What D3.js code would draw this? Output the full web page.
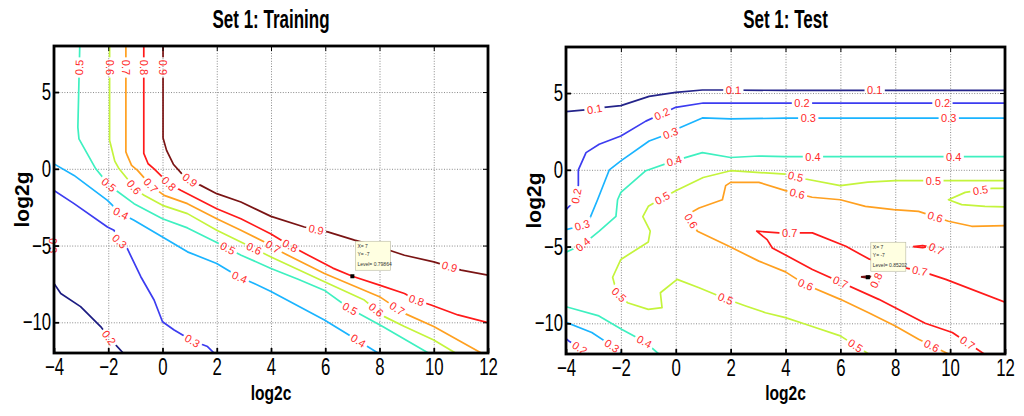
<!DOCTYPE html>
<html>
<head>
<meta charset="utf-8">
<script src="https://d3js.org/d3.v7.min.js"></script>
<style>
  body { margin: 0; background: #fff; }
  text { font-family: "Liberation Sans", Arial, sans-serif; }
</style>
</head>
<body>
<div id="chart"></div>
<script>
// axis ticks and titles
const xTicks = [-4, -2, 0, 2, 4, 6, 8, 10, 12];
const yTicks = [-10, -5, 0, 5];
const titles = ["Set 1: Training", "Set 1: Test"];

// ---- training set contours, points are [log2c, log2g] ----
const trainLevels = [0.2, 0.3, 0.4, 0.5, 0.6, 0.7, 0.8, 0.9];
const trainColors = ["#1c1c82", "#3c3cf0", "#1ab4ff", "#3ef0c0", "#c4f43c", "#ffa020", "#ff1a1a", "#7a1414"];

const tr02 = [[-4,-7.47],[-3.75,-8.12],[-3.02,-8.98],[-2.28,-10.28],[-1.97,-11.0],[-1.45,-12]];
const tr03 = [[-4,-1.41],[-3.26,-2.27],[-2.03,-3.79],[-1.79,-4.0],[-1.6,-4.7],[-1.3,-5.19],[-0.8,-7.03],[-0.31,-8.55],[0,-9.96],[0.43,-10.5],[1.1,-11.2],[1.66,-11.58],[1.9,-12]];
const tr04 = [[-4,0.32],[-3.26,-0.43],[-2.03,-2.06],[-1.54,-2.9],[-1.05,-3.35],[0,-4.44],[0.92,-5.41],[2,-6.17],[2.83,-7.05],[3.38,-7.47],[4,-8.0],[5.97,-9.85],[7.22,-11.2],[7.94,-12]];
const tr05 = [[-3.05,8],[-3.12,2.7],[-3.08,1.95],[-2.77,0.97],[-2.46,0],[-2.0,-1.0],[-1.72,-1.4],[-1.05,-2.27],[0,-3.25],[0.92,-3.85],[2,-4.8],[2.9,-5.63],[4,-6.49],[5,-7.2],[6,-7.95],[6.9,-9.1],[8.1,-10.26],[9.8,-12]];
const tr06 = [[-1.95,8],[-1.95,1.85],[-1.9,1.5],[-1.76,0.5],[-1.6,0],[-1.05,-1.19],[-0.68,-1.73],[0,-2.38],[0.92,-2.92],[2,-4.0],[3.38,-5.19],[4,-5.75],[5.97,-7.36],[7.44,-8.55],[8.18,-9.63],[8.92,-10.28],[10,-11.15],[10.8,-12]];
const tr07 = [[-1.35,8],[-1.35,1.1],[-1.3,0.87],[-1.14,0.22],[-0.92,-0.1],[-0.43,-1.08],[0.06,-1.73],[0.92,-2.27],[2,-3.25],[2.89,-4.0],[3.87,-4.87],[4.37,-5.41],[5.97,-6.82],[8,-8.33],[8.92,-9.42],[10,-10.28],[11.75,-12]];
const tr08 = [[-0.69,8],[-0.69,1.0],[-0.53,0.33],[-0.31,0.0],[0.24,-0.97],[0.67,-1.4],[2,-2.6],[2.89,-3.25],[4,-4.25],[4.7,-5.0],[5.5,-5.75],[6.28,-6.47],[7,-7],[8,-7.58],[8.92,-8.12],[9.35,-8.55],[9.9,-8.87],[10.89,-9.52],[12,-10.02]];
const tr09 = [[0.02,8],[0.02,2],[0.15,1.2],[0.4,0.3],[0.7,-0.3],[1.1,-0.85],[1.41,-1.08],[2,-1.62],[2.89,-2.16],[4,-3.1],[5.23,-3.79],[6.09,-4.11],[7.08,-4.65],[8,-5.09],[8.92,-5.63],[10,-6.06],[11.01,-6.6],[12,-6.93]];

const trainContours = [
  {level: 0.2, pts: tr02}, {level: 0.3, pts: tr03}, {level: 0.4, pts: tr04},
  {level: 0.5, pts: tr05}, {level: 0.6, pts: tr06}, {level: 0.7, pts: tr07},
  {level: 0.8, pts: tr08}, {level: 0.9, pts: tr09}
];

// inline labels [level, log2c, log2g, fixed angle]
const trainLabels = [
  [0.9, 0.02, 6.6], [0.9, 1.0, -0.76], [0.9, 5.66, -4.0], [0.9, 10.58, -6.39],
  [0.8, -0.69, 6.6], [0.8, 0.24, -0.97], [0.8, 4.68, -5.1], [0.8, 9.35, -8.66],
  [0.7, -1.35, 6.6], [0.7, -0.43, -1.08], [0.7, 4.07, -5.1], [0.7, 8.61, -9.2],
  [0.6, -1.95, 6.6], [0.6, -1.05, -1.19], [0.6, 3.38, -5.19], [0.6, 7.87, -9.2],
  [0.5, -3.08, 6.6], [0.5, -2.0, -1.08], [0.5, 2.4, -5.2], [0.5, 6.89, -9.2],
  [0.4, -1.54, -2.92], [0.4, 2.83, -7.1], [0.4, 7.22, -11.2],
  [0.3, -1.6, -4.76], [0.3, 1.1, -11.2], [0.3, -4.05, -5.0, 90],
  [0.2, -1.97, -11.0]
];
const trainCursor = {x: 7, y: -7, level: "0.79864"};

// ---- test set contours ----
const testLevels = [0.1, 0.2, 0.3, 0.4, 0.5, 0.6, 0.7, 0.8];
const testColors = ["#24248a", "#3c3cf0", "#1ab4ff", "#3ef0c0", "#c4f43c", "#ffa020", "#ff1a1a", "#7a1414"];

const te01 = [[-4,3.79],[-3,3.95],[-2.61,4.07],[-2,4.18],[-0.97,4.78],[0,5.04],[0.97,5.2],[1.7,5.2],[4,5.17],[12,5.17]];
const te02 = [[-4,-2.6],[-3.65,-1.95],[-3.55,-1.0],[-3.55,0],[-3.27,1.12],[-2.79,1.66],[-2,2.2],[-1.09,3.17],[-0.5,3.65],[0,4.07],[1,4.35],[12,4.35]];
const te02b = [[-4,-11.0],[-3.9,-11.15],[-3.5,-11.6],[-3.17,-12]];
const te03 = [[-4,-3.9],[-3.76,-3.79],[-3.4,-3.6],[-3.15,-3.25],[-2.85,-1.95],[-2.42,0],[-2,0.58],[-0.97,1.88],[-0.18,2.4],[0,2.63],[0.97,3.38],[2,3.32],[4,3.36],[12,3.36]];
const te03b = [[-4,-9.94],[-3.06,-10.6],[-2.32,-11.47],[-1.96,-12]];
const te04 = [[-4,-5.37],[-3.39,-4.87],[-2.79,-4.0],[-2.18,-3.03],[-2.12,-1.95],[-2,-1.47],[-1.09,-0.06],[-0.06,0.58],[0.97,1.12],[2,0.8],[3.03,0.9],[4,0.86],[12,0.86]];
const te04b = [[-4,-8.92],[-2.8,-9.52],[-1.96,-10.4],[-1.1,-11.24],[-0.62,-12]];
const te05 = [[12,-0.71],[10,-0.71],[8,-0.71],[7,-0.8],[6,-1.03],[4.73,-0.6],[4,-0.28],[2,-0.06],[1,-0.5],[0,-1.36],[-0.5,-1.85],[-1.0,-2.38],[-1.2,-3.05],[-0.93,-4.0],[-1.0,-4.7],[-2,-5.84],[-2.3,-7.0],[-2.15,-8.0],[-1.76,-8.66],[-1.0,-9.09],[-0.5,-8.98],[-0.56,-8.01],[0.05,-7.14],[0.85,-7.68],[1.82,-8.4],[2.55,-8.87],[3.27,-9.31],[4,-9.63],[4.73,-10.06],[6,-10.82],[7.03,-12]];
const te05b = [[12,-1.21],[11.52,-1.21],[10.55,-1.47],[9.94,-1.95],[10.42,-2.27],[11.27,-2.38],[12,-2.42]];
const te06 = [[12,-3.64],[10.79,-3.68],[9.94,-3.35],[8.85,-2.71],[7.94,-2.6],[6.91,-2.38],[6,-1.95],[4.97,-1.79],[4,-1.36],[3.03,-0.82],[2,-0.82],[1.82,-1.03],[1.7,-1.95],[0.85,-2.49],[0.42,-2.92],[0.79,-4.0],[1.94,-4.98],[3.03,-5.95],[4,-6.65],[4.7,-7.45],[6,-8.44],[7.03,-9.31],[8,-10.17],[8.85,-11.04],[9.94,-12]];
const te07 = [[12,-8.62],[9.84,-7.14],[8.93,-6.6],[8.36,-6.39],[7.03,-5.8],[6.2,-4.98],[4.98,-4.11],[3.76,-4.11],[2.95,-4.0],[3.33,-4.55],[3.52,-5.09],[4.98,-6.49],[7.4,-8.44],[9.09,-10],[10.08,-10.6],[11.24,-12]];
const te07b = [[8.65,-5.0],[9.0,-4.93],[9.2,-5.0],[9.0,-5.07],[8.65,-5.0]];
const te08 = [[6.75,-6.97],[7.05,-6.93],[7.2,-7.0],[7.05,-7.06],[6.75,-6.97]];

const testContours = [
  {level: 0.1, pts: te01}, {level: 0.2, pts: te02}, {level: 0.2, pts: te02b},
  {level: 0.3, pts: te03}, {level: 0.3, pts: te03b}, {level: 0.4, pts: te04},
  {level: 0.4, pts: te04b}, {level: 0.5, pts: te05}, {level: 0.5, pts: te05b},
  {level: 0.6, pts: te06}, {level: 0.7, pts: te07}, {level: 0.7, pts: te07b},
  {level: 0.8, pts: te08}
];

const testLabels = [
  [0.1, -2.95, 3.85], [0.1, 2.1, 5.15], [0.1, 7.25, 5.17],
  [0.2, -3.65, -1.7], [0.2, -0.5, 3.62], [0.2, 4.6, 4.35], [0.2, 9.72, 4.35], [0.2, -3.5, -11.6],
  [0.3, -3.42, -3.55], [0.3, -0.18, 2.35], [0.3, 4.83, 3.36], [0.3, 9.95, 3.36], [0.3, -2.32, -11.45],
  [0.4, -3.39, -4.85], [0.4, -0.06, 0.6], [0.4, 5.0, 0.86], [0.4, 10.13, 0.86], [0.4, -1.15, -11.2],
  [0.5, -0.5, -1.8], [0.5, 4.36, -0.5], [0.5, 9.39, -0.71], [0.5, 11.1, -1.3],
  [0.5, -2.1, -8.2], [0.5, 1.82, -8.4], [0.5, 6.55, -11.45],
  [0.6, 4.42, -1.62], [0.6, 9.45, -3.1], [0.6, 0.5, -3.4], [0.6, 4.73, -7.5], [0.6, 9.33, -11.45],
  [0.7, 4.15, -4.11], [0.7, 8.9, -6.55], [0.7, 6.0, -7.35], [0.7, 10.6, -11.35], [0.7, 9.5, -5.15, 25],
  [0.8, 7.3, -7.2, -65]
];
const testCursor = {x: 7, y: -7, level: "0.85202"};

// ---- page ----
const svgWidth = 1024, svgHeight = 416;
const svg = d3.select("#chart").append("svg")
  .attr("width", svgWidth)
  .attr("height", svgHeight);
const defs = svg.append("defs");

const panels = [
  {id: "tr", title: titles[0], box: {left: 54, right: 488, top: 46, bottom: 353},
   levels: trainLevels, colors: trainColors, contours: trainContours, labels: trainLabels, cursor: trainCursor},
  {id: "te", title: titles[1], box: {left: 566, right: 1005, top: 47, bottom: 354},
   levels: testLevels, colors: testColors, contours: testContours, labels: testLabels, cursor: testCursor}
];

panels.forEach(p => {
  const b = p.box;
  const plotH = b.bottom - b.top, plotW = b.right - b.left;
  const x = d3.scaleLinear().domain([-4, 12]).range([b.left, b.right]);
  const y = d3.scaleLinear().domain([-12, 8]).range([b.bottom, b.top]);
  const color = d3.scaleOrdinal().domain(p.levels).range(p.colors);
  const g = svg.append("g");

  // clip + mask for the label gaps
  defs.append("clipPath").attr("id", p.id + "clip")
    .append("rect").attr("x", b.left).attr("y", b.top).attr("width", plotW).attr("height", plotH);
  const mask = defs.append("mask").attr("id", p.id + "mask").attr("maskUnits", "userSpaceOnUse")
    .attr("x", 0).attr("y", 0).attr("width", svgWidth).attr("height", svgHeight);
  mask.append("rect").attr("width", svgWidth).attr("height", svgHeight).attr("fill", "white");

  // grid
  g.append("g")
    .attr("transform", `translate(0,${b.bottom})`)
    .call(d3.axisBottom(x).tickValues(xTicks).tickSize(-plotH).tickFormat(""))
    .call(a => a.select(".domain").remove())
    .selectAll("line").attr("stroke", "#8a8a8a").attr("stroke-dasharray", "1,1.6");
  g.append("g")
    .attr("transform", `translate(${b.left},0)`)
    .call(d3.axisLeft(y).tickValues(yTicks).tickSize(-plotW).tickFormat(""))
    .call(a => a.select(".domain").remove())
    .selectAll("line").attr("stroke", "#8a8a8a").attr("stroke-dasharray", "1,1.6");

  // contour lines
  const line = d3.line().x(d => x(d[0])).y(d => y(d[1]));
  const cg = g.append("g").attr("clip-path", `url(#${p.id}clip)`);
  cg.append("g").attr("mask", `url(#${p.id}mask)`)
    .selectAll("path")
    .data(p.contours)
    .join("path")
    .attr("d", d => line(d.pts))
    .attr("fill", "none")
    .attr("stroke", d => color(d.level))
    .attr("stroke-width", 1.7)
    .attr("stroke-linejoin", "round");

  // contour labels, snapped onto their line and turned along it
  const lg = g.append("g");
  p.labels.forEach(([lev, lx, ly, ang]) => {
    let px = x(lx), py = y(ly), a = ang;
    if (a === undefined) {
      let best = null;
      p.contours.filter(c => c.level === lev).forEach(c => {
        for (let i = 0; i < c.pts.length - 1; i++) {
          const ax = x(c.pts[i][0]), ay = y(c.pts[i][1]);
          const bx = x(c.pts[i + 1][0]), by = y(c.pts[i + 1][1]);
          const dx = bx - ax, dy = by - ay, l2 = dx * dx + dy * dy;
          let t = l2 ? ((px - ax) * dx + (py - ay) * dy) / l2 : 0;
          t = Math.max(0, Math.min(1, t));
          const qx = ax + t * dx, qy = ay + t * dy;
          const dd = (qx - px) ** 2 + (qy - py) ** 2;
          if (!best || dd < best.d) best = {d: dd, x: qx, y: qy, a: Math.atan2(dy, dx) * 180 / Math.PI};
        }
      });
      px = best.x; py = best.y; a = best.a;
      if (a > 90) a -= 180;
      if (a <= -90) a += 180;
    }
    const tf = `translate(${px},${py}) rotate(${a})`;
    const t = lg.append("text")
      .attr("transform", tf)
      .attr("text-anchor", "middle")
      .attr("dy", "0.36em")
      .attr("font-size", 11)
      .attr("fill", "#ff2a2a")
      .text(lev.toFixed(1));
    const w = t.node().getComputedTextLength();
    mask.append("rect")
      .attr("transform", tf)
      .attr("x", -w / 2 - 2.5).attr("y", -6)
      .attr("width", w + 5).attr("height", 12)
      .attr("fill", "black");
  });

  // ticks inside the box
  const bottomAxis = g.append("g").attr("transform", `translate(0,${b.bottom})`)
    .call(d3.axisBottom(x).tickValues(xTicks).tickSize(-5).tickSizeOuter(0).tickPadding(5));
  g.append("g").attr("transform", `translate(0,${b.top})`)
    .call(d3.axisTop(x).tickValues(xTicks).tickSize(-5).tickSizeOuter(0).tickFormat(""));
  const leftAxis = g.append("g").attr("transform", `translate(${b.left},0)`)
    .call(d3.axisLeft(y).tickValues(yTicks).tickSize(-5).tickSizeOuter(0).tickPadding(4));
  g.append("g").attr("transform", `translate(${b.right},0)`)
    .call(d3.axisRight(y).tickValues(yTicks).tickSize(-5).tickSizeOuter(0).tickFormat(""));
  g.selectAll(".domain").remove();
  [bottomAxis, leftAxis].forEach(ax => ax.selectAll(".tick line").attr("stroke", "#000").attr("stroke-width", 1.8));
  g.selectAll("g").filter(function () { return this.parentNode === g.node(); });

  bottomAxis.selectAll("text")
    .attr("font-size", 24).attr("fill", "#000")
    .attr("font-family", "Liberation Sans, Arial, sans-serif")
    .attr("transform", "scale(0.7,1)");
  leftAxis.selectAll("text")
    .attr("font-size", 24).attr("fill", "#000")
    .attr("font-family", "Liberation Sans, Arial, sans-serif")
    .attr("transform", "scale(0.7,1)");

  // box
  g.append("rect")
    .attr("x", b.left).attr("y", b.top)
    .attr("width", plotW).attr("height", plotH)
    .attr("fill", "none").attr("stroke", "#000").attr("stroke-width", 2.8);

  // data cursor
  const cx = x(p.cursor.x), cy = y(p.cursor.y);
  g.append("rect").attr("x", cx - 2).attr("y", cy - 2).attr("width", 4).attr("height", 4).attr("fill", "#000");
  const tip = g.append("g").attr("transform", `translate(${cx + 3},${cy - 35})`);
  tip.append("rect").attr("width", 35).attr("height", 29)
    .attr("fill", "#ffffe1").attr("stroke", "#b8b8a0").attr("stroke-width", 0.6);
  [`X= ${p.cursor.x}`, `Y= ${p.cursor.y}`, `Level= ${p.cursor.level}`].forEach((s, i) => {
    tip.append("text").attr("x", 2).attr("y", [7, 15, 25][i])
      .attr("font-size", 5).attr("fill", "#333").text(s);
  });

  // titles
  const midX = (b.left + b.right) / 2;
  svg.append("text")
    .attr("transform", `translate(${midX},28) scale(0.68,1)`)
    .attr("text-anchor", "middle")
    .attr("font-size", 25).attr("font-weight", "bold")
    .text(p.title);
  svg.append("text")
    .attr("transform", `translate(${midX},400) scale(0.78,1)`)
    .attr("text-anchor", "middle")
    .attr("font-size", 20).attr("font-weight", "bold")
    .text("log2c");
  svg.append("text")
    .attr("transform", `translate(${b.left - 32},${(b.top + b.bottom) / 2}) rotate(-90)`)
    .attr("text-anchor", "middle")
    .attr("dy", "0.35em")
    .attr("font-size", 21).attr("font-weight", "bold")
    .text("log2g");
});
</script>
</body>
</html>
